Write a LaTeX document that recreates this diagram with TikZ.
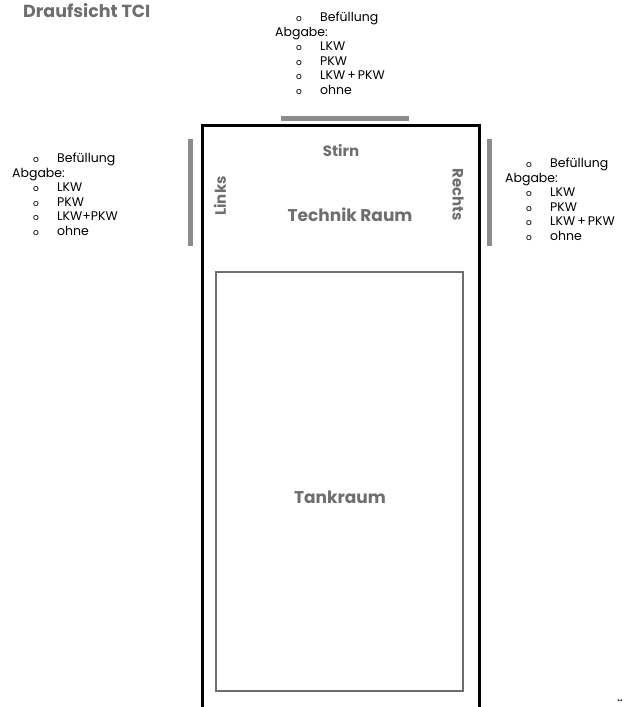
\documentclass[tikz,border=0pt]{standalone}
\usepackage{fontspec}
\setmainfont{Poppins}
\usetikzlibrary{positioning}
\definecolor{textgrau}{HTML}{6E6E6E}
\definecolor{balkengrau}{HTML}{8C8C8C}
\newcommand{\punkt}[1]{\hspace*{21pt}\makebox[24pt][l]{\fontsize{9}{9}\selectfont o}#1}

\begin{document}
\begin{tikzpicture}[
    x=1pt, y=-1pt,
    liste/.style={anchor=north west, inner sep=0pt, align=left, font=\fontsize{12.5}{14.5}\selectfont},
    raum/.style={font=\fontsize{17}{17}\selectfont\bfseries, text=textgrau, inner sep=0pt},
    seite/.style={font=\fontsize{15}{15}\selectfont\bfseries, text=textgrau, inner sep=0pt},
    balken/.style={line width=5pt, draw=balkengrau},
]
\useasboundingbox (0,0) rectangle (626,707);

% Title
\node[font=\fontsize{17.5}{17.5}\selectfont\bfseries, text=textgrau, anchor=west, inner sep=0pt] (titel) at (23,11) {Draufsicht TCI};

% ====== Walls ======
\draw[line width=3pt] (202,707) |- (479,125) -- (479,707);
\draw[line width=2pt, draw=textgrau] (216,272) rectangle (463,691);

% ====== Connection bars ======
\coordinate (stirnA) at (281,118);
\coordinate (stirnB) at (409,118);
\coordinate (linksA) at (190,139);
\coordinate (linksB) at (190,246);
\coordinate (rechtsA) at (489,139);
\coordinate (rechtsB) at (489,246);
\draw[balken] (stirnA) -- (stirnB);
\draw[balken] (linksA) -- (linksB);
\draw[balken] (rechtsA) -- (rechtsB);

% ====== Lists ======
\node[liste] (listeOben) at (275,12) {\punkt{Befüllung}\\Abgabe:\\\punkt{LKW}\\\punkt{PKW}\\\punkt{LKW\,+\,PKW}\\\punkt{ohne}};
\node[liste] (listeLinks) at (12,153) {\punkt{Befüllung}\\Abgabe:\\\punkt{LKW}\\\punkt{PKW}\\\punkt{LKW+PKW}\\\punkt{ohne}};
\node[liste] (listeRechts) at (505,158) {\punkt{Befüllung}\\Abgabe:\\\punkt{LKW}\\\punkt{PKW}\\\punkt{LKW\,+\,PKW}\\\punkt{ohne}};

% ====== Labels ======
\node[seite] (stirn) at (341,151) {Stirn};
\node[seite, rotate=90] (links) at (220,196) {Links};
\node[seite, rotate=-90] (rechts) at (458,195) {Rechts};
\node[raum] (technik) at (350,215) {Technik Raum};
\node[raum] (tank) at (340,497) {Tankraum};
\node[font=\fontsize{9}{9}\selectfont\bfseries, inner sep=0pt] (punkte) at (620,701) {..};

\end{tikzpicture}
\end{document}
